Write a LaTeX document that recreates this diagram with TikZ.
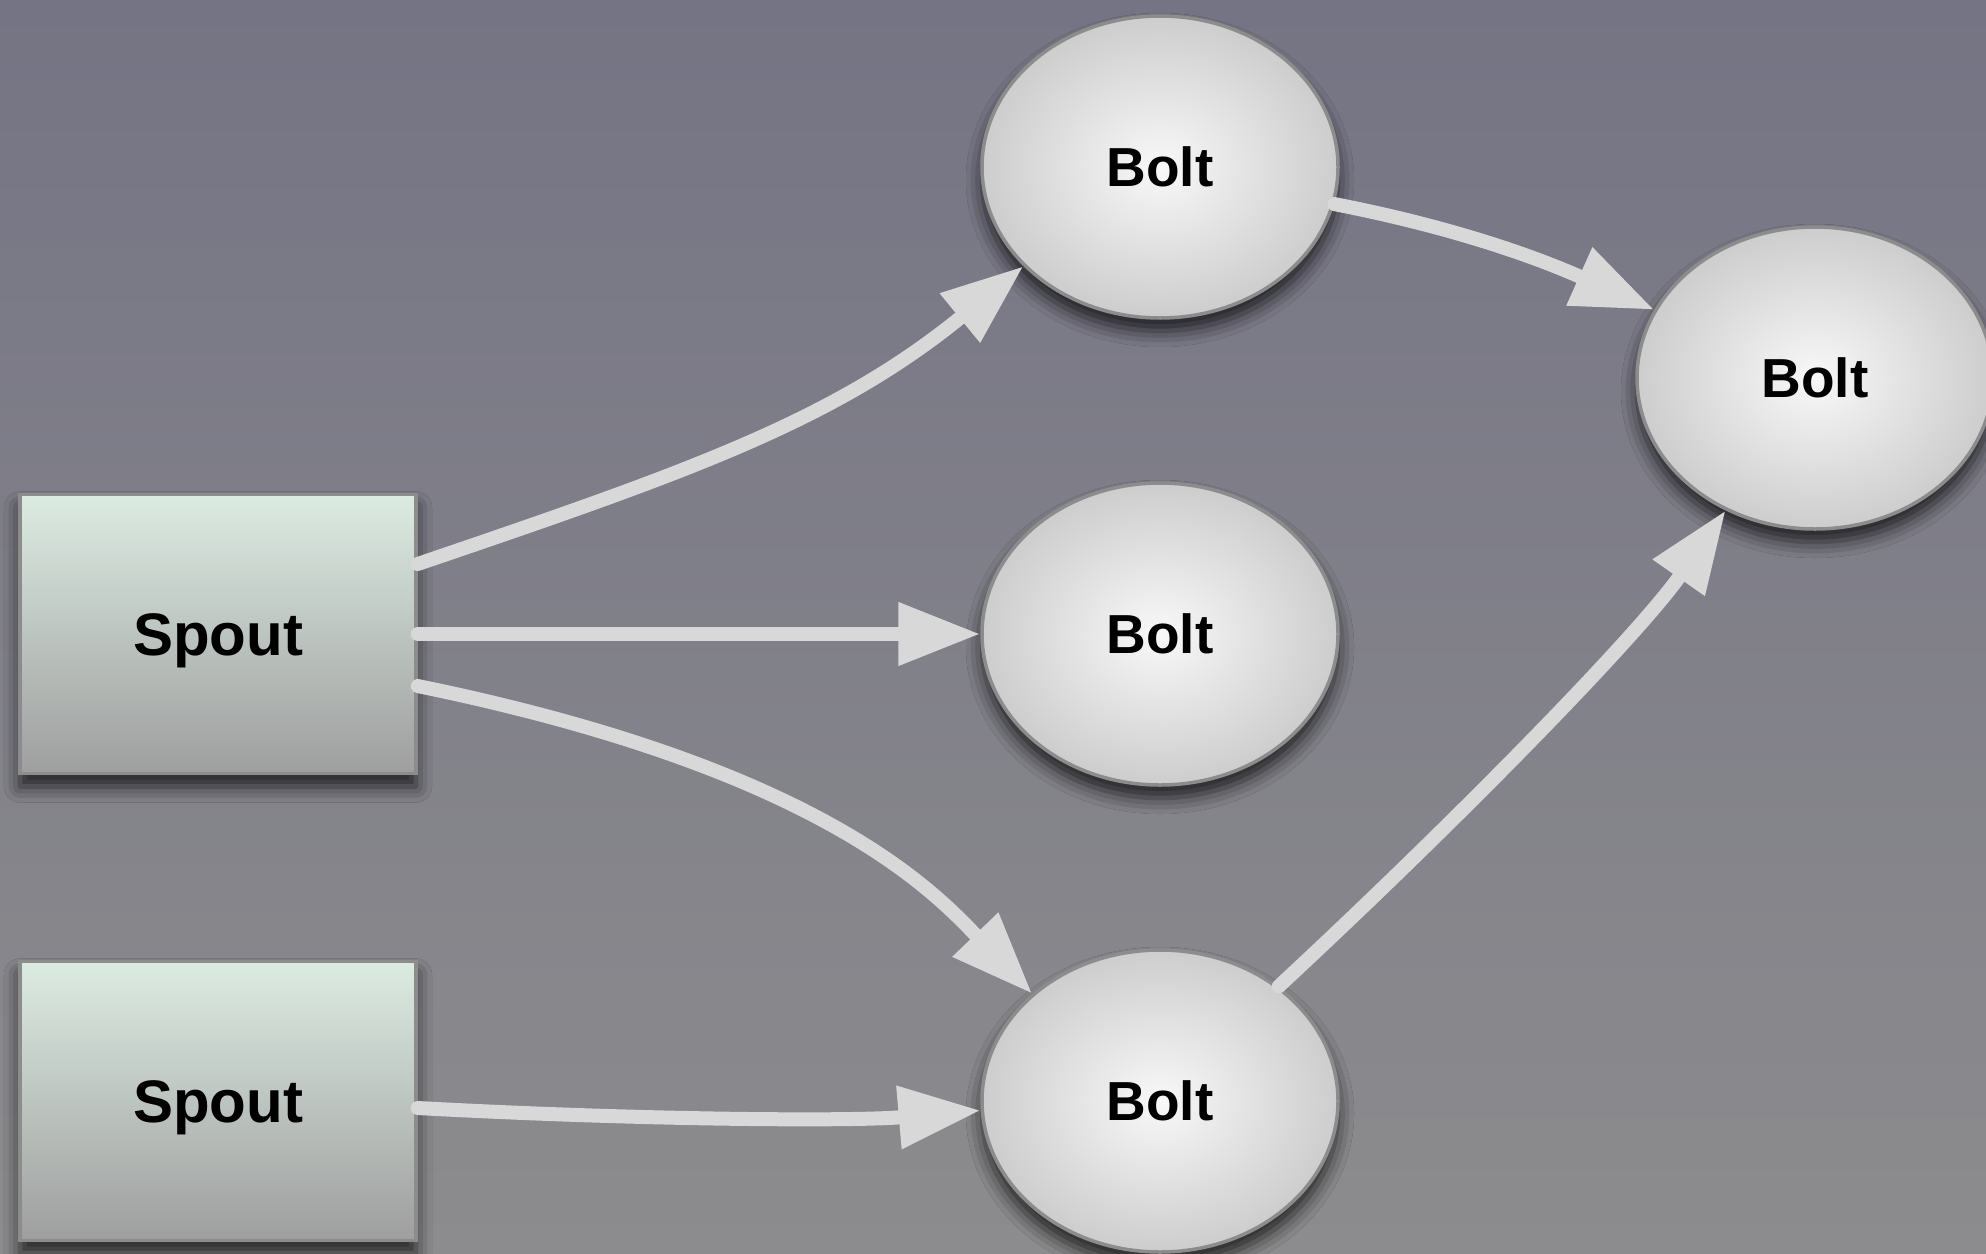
\documentclass[tikz,border=0pt]{standalone}
\usepackage{fontspec}
\setmainfont{Liberation Sans}
\usetikzlibrary{arrows.meta,shapes.geometric,shadows.blur}
\definecolor{bgtop}{RGB}{117,116,132}
\definecolor{bgbot}{RGB}{140,140,142}
\definecolor{spouttop}{RGB}{220,235,226}
\definecolor{spoutbot}{RGB}{158,158,158}
\definecolor{edgecol}{RGB}{140,140,140}
\definecolor{boltin}{RGB}{248,248,248}
\definecolor{boltout}{RGB}{205,205,205}
\definecolor{conncol}{RGB}{216,216,216}
\begin{document}
\begin{tikzpicture}[x=1pt,y=-1pt,
  myshadow/.style={blur shadow={shadow xshift=0pt, shadow yshift=-13pt, shadow blur radius=16pt, shadow opacity=75}},
  spoutbox/.style={rectangle, minimum width=396pt, minimum height=279pt, inner sep=0pt,
    top color=spouttop, bottom color=spoutbot, draw=edgecol, line width=3.5pt,
    font=\fontsize{60}{72}\selectfont\bfseries, text height=43pt, text depth=0pt, myshadow},
  boltnode/.style={ellipse, minimum width=356pt, minimum height=302pt, inner sep=0pt,
    inner color=boltin, outer color=boltout, draw=edgecol, line width=3.5pt,
    font=\fontsize{55}{66}\selectfont\bfseries, text height=39.5pt, text depth=0pt, myshadow},
  conn/.style={draw=conncol, line width=14pt, line cap=round, -{Triangle[length=82pt,width=60pt]}}]
\useasboundingbox (0,0) rectangle (1986,1253);
\shade[top color=bgtop, bottom color=bgbot] (0,0) rectangle (1986,1253);

\node[spoutbox] (spout1) at (218,634) {Spout};
\node[spoutbox] (spout2) at (218,1101) {Spout};
\node[boltnode] (btop) at (1160,167) {Bolt};
\node[boltnode] (bmid) at (1160,634) {Bolt};
\node[boltnode] (bbot) at (1160,1101) {Bolt};
\node[boltnode] (bright) at (1815,378) {Bolt};

\draw[conn] ([yshift=70pt]spout1.east) .. controls +(270,-92) and +(-190,155) .. (btop.216);
\draw[conn] (spout1.east) -- (bmid.west);
\draw[conn] ([yshift=-52pt]spout1.east) .. controls +(400,82) and +(-100,-104) .. (bbot.140);
\draw[conn] ([yshift=-7pt]spout2.east) .. controls +(222,12) and +(-128,11) .. (bbot.183);
\draw[conn] (btop.348) .. controls +(128,25) and +(-110,-49) .. (bright.157);
\draw[conn] (bbot.44) .. controls +(183,-170) and +(-86,123) .. (bright.236);
\end{tikzpicture}
\end{document}
